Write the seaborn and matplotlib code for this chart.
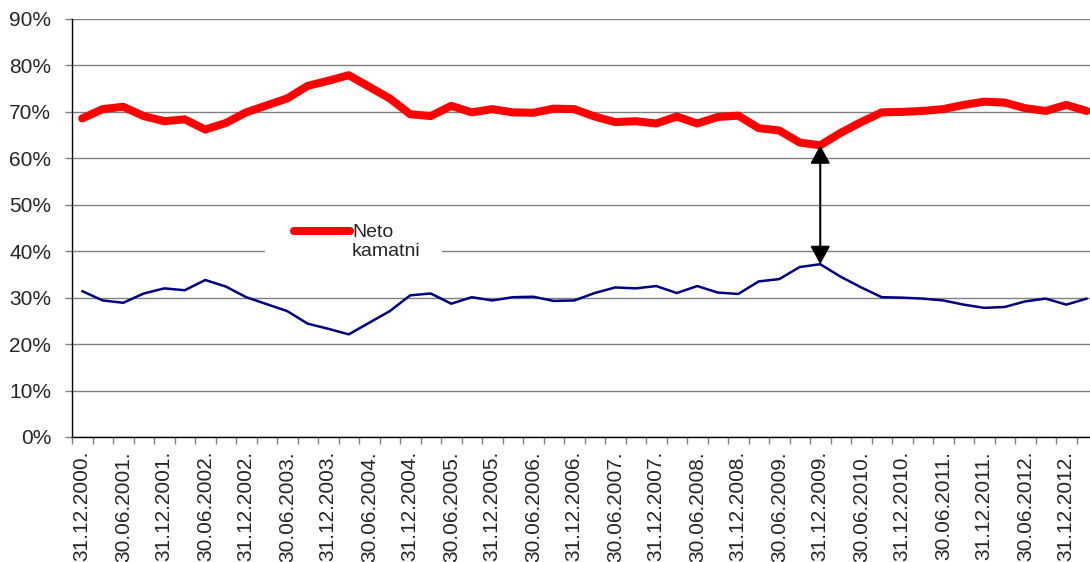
import numpy as np
import pandas as pd
import matplotlib
matplotlib.use("Agg")
import matplotlib.pyplot as plt
import seaborn as sns
from matplotlib.legend_handler import HandlerLine2D
from matplotlib.lines import Line2D
from matplotlib.patches import Rectangle

# ---- data ----
dates = pd.date_range("2000-12-31", periods=50, freq="QE")
categories = [d.strftime("%d.%m.%Y.") for d in dates]

neto_kamatni = [68.6, 70.6, 71.1, 69.1, 68.0, 68.4, 66.2, 67.6, 69.9, 71.4,
                72.9, 75.6, 76.7, 77.9, 75.4, 72.9, 69.5, 69.1, 71.3, 69.9,
                70.6, 69.9, 69.8, 70.7, 70.6, 69.0, 67.8, 68.0, 67.5, 69.0,
                67.5, 68.9, 69.2, 66.5, 66.0, 63.4, 62.8, 65.5, 67.8, 69.9,
                70.0, 70.2, 70.6, 71.5, 72.2, 72.0, 70.8, 70.2, 71.5, 70.2]

nekamatni = [31.4, 29.4, 28.9, 30.9, 32.0, 31.6, 33.8, 32.4, 30.1, 28.6,
             27.1, 24.4, 23.3, 22.1, 24.6, 27.1, 30.5, 30.9, 28.7, 30.1,
             29.4, 30.1, 30.2, 29.3, 29.4, 31.0, 32.2, 32.0, 32.5, 31.0,
             32.5, 31.1, 30.8, 33.5, 34.0, 36.6, 37.2, 34.5, 32.2, 30.1,
             30.0, 29.8, 29.4, 28.5, 27.8, 28.0, 29.2, 29.8, 28.5, 29.8]

yticks = [0, 10, 20, 30, 40, 50, 60, 70, 80, 90]
arrow_idx = 36

sns.set_style("white")
plt.rcParams["font.family"] = ["Liberation Sans", "DejaVu Sans"]

fig = plt.figure(figsize=(10.9, 5.62), dpi=100)
ax = fig.add_axes([72 / 1090, 125 / 562, 1025 / 1090, 418 / 562])

x = np.arange(len(categories))
df = pd.DataFrame({"x": x, "red": neto_kamatni, "blue": nekamatni})

sns.lineplot(data=df, x="x", y="red", color="#ff0000", lw=5.8, ax=ax,
             label="Neto\nkamatni", solid_capstyle="round", solid_joinstyle="round")
sns.lineplot(data=df, x="x", y="blue", color="#000080", lw=1.8, ax=ax,
             legend=False, solid_joinstyle="round")

ax.set_xlim(-0.5, len(categories) - 0.5)
ax.set_ylim(0, 90)
ax.set_yticks(yticks)
ax.set_yticklabels([f"{v}%" for v in yticks], fontsize=15)
ax.yaxis.grid(True, color="#808080", lw=1)
ax.xaxis.grid(False)
ax.set_axisbelow(True)
ax.tick_params(axis="y", length=5, width=1, color="#808080", pad=10, left=True)

ax.set_xticks(x[::2])
ax.set_xticklabels(categories[::2], rotation=90, fontsize=15, va="top")
ax.set_xticks(np.arange(-0.5, len(categories), 1), minor=True)
ax.tick_params(axis="x", which="major", length=0, pad=10, bottom=True)
ax.tick_params(axis="x", which="minor", length=5, width=1, color="#808080", bottom=True)
ax.set_xlabel("")
ax.set_ylabel("")

for s in ["top", "right"]:
    ax.spines[s].set_visible(False)
for s in ["left", "bottom"]:
    ax.spines[s].set_color("black")
    ax.spines[s].set_linewidth(1)
    ax.spines[s].set_zorder(3)

ax.annotate("", xy=(arrow_idx, neto_kamatni[arrow_idx]),
            xytext=(arrow_idx, nekamatni[arrow_idx]),
            arrowprops=dict(arrowstyle="<|-|>,head_length=0.55,head_width=0.3",
                            color="black", lw=1.5, shrinkA=0, shrinkB=0,
                            mutation_scale=20))

# white legend background (covers the gridline like the original)
ax.add_patch(Rectangle((265 / 1090, (562 - 266) / 562), 177 / 1090, 50 / 562,
                       transform=fig.transFigure, facecolor="white",
                       edgecolor="none", zorder=1, clip_on=False))


class TopHandler(HandlerLine2D):
    def create_artists(self, legend, orig_handle, xdescent, ydescent, width,
                       height, fontsize, trans):
        arts = super().create_artists(legend, orig_handle, xdescent, ydescent,
                                      width, height, fontsize, trans)
        for a in arts:
            a.set_ydata(np.asarray(a.get_ydata()) + fontsize * 0.55)
        return arts


handles, labels = ax.get_legend_handles_labels()
leg = ax.legend(handles, labels, loc="center left",
                bbox_to_anchor=(284 / 1090, (562 - 242) / 562),
                bbox_transform=fig.transFigure, fontsize=14, frameon=False,
                handlelength=2.9, handletextpad=0.1, borderpad=0,
                handler_map={Line2D: TopHandler()})
for t in leg.get_texts():
    t.set_linespacing(1.15)

fig.savefig("out.png", dpi=100)
